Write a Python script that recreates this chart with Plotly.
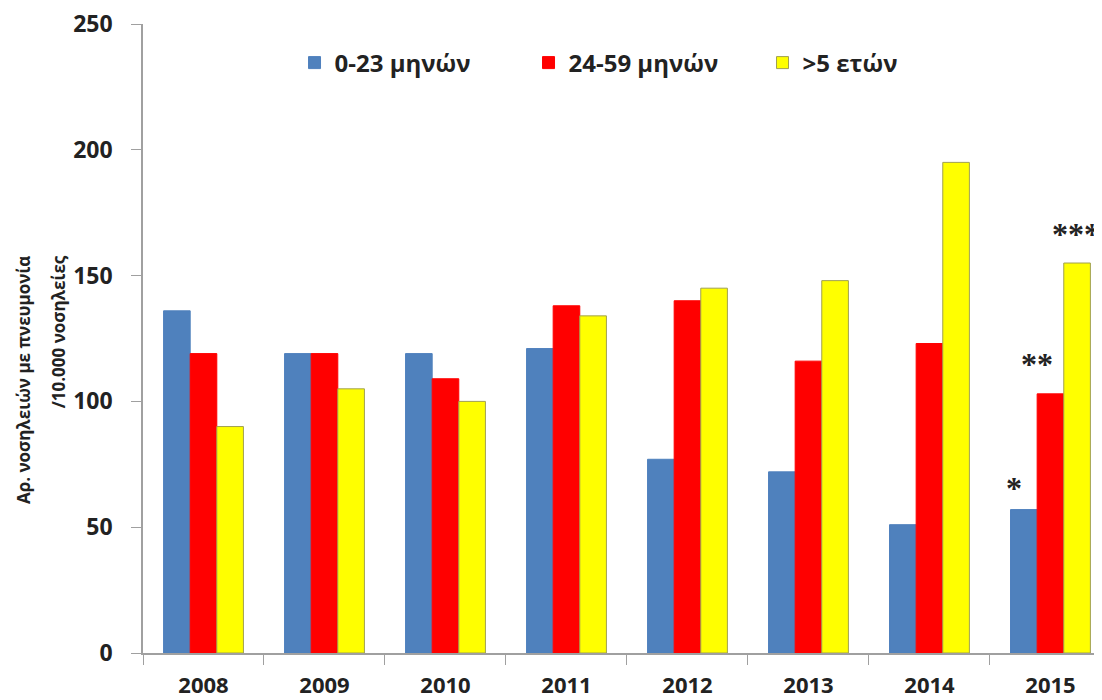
import plotly.graph_objects as go

years = ["2008", "2009", "2010", "2011", "2012", "2013", "2014", "2015"]
series_names = ["0-23 μηνών", "24-59 μηνών", ">5 ετών"]
v_0_23 = [136, 119, 119, 121, 77, 72, 51, 57]
v_24_59 = [119, 119, 109, 138, 140, 116, 123, 103]
v_over5 = [90, 105, 100, 134, 145, 148, 195, 155]
y_ticks = [0, 50, 100, 150, 200, 250]
y_title_1 = "Αρ. νοσηλειών με πνευμονία"
y_title_2 = "/10.000 νοσηλείες"
stars = ["*", "**", "***"]

colors = ["#4F81BD", "#FF0000", "#FFFF00"]
lines = ["#4F81BD", "#FF0000", "#A0A050"]
FONT = "Open Sans"

fig = go.Figure()
for name, vals, c, lc in zip(series_names, [v_0_23, v_24_59, v_over5], colors, lines):
    fig.add_trace(go.Bar(
        x=years, y=vals, name=name,
        marker=dict(color=c, line=dict(color=lc, width=1)),
    ))

# asterisks above 2015 bars
last = [v_0_23[-1], v_24_59[-1], v_over5[-1]]
xshifts = [-36, -13, 26]
yshifts = [22, 30, 29]
for s, v, xs, ys in zip(stars, last, xshifts, yshifts):
    fig.add_annotation(x=len(years) - 1, y=v, text=s, showarrow=False,
                       xshift=xs, yshift=ys, yanchor="middle", xanchor="center",
                       font=dict(family="Liberation Serif", size=32, color="#222"))

fig.add_annotation(xref="paper", yref="paper", x=-0.1251, y=0.434,
                   xanchor="center", yanchor="middle",
                   text=y_title_1, textangle=-90, showarrow=False,
                   font=dict(family=FONT, size=17, color="#222", weight="bold"))
fig.add_annotation(xref="paper", yref="paper", x=-0.0886, y=0.510,
                   xanchor="center", yanchor="middle",
                   text=y_title_2, textangle=-90, showarrow=False,
                   font=dict(family=FONT, size=17, color="#222", weight="bold"))

fig.update_layout(
    width=1094, height=692,
    margin=dict(l=135, r=0, t=16, b=47),
    paper_bgcolor="white", plot_bgcolor="white",
    barmode="group", bargap=0.34, bargroupgap=0,
    font=dict(family=FONT, size=21, color="#222", weight="bold"),
    showlegend=True,
    legend=dict(orientation="h", x=0.158, y=0.938, xanchor="left", yanchor="middle",
                entrywidth=189, entrywidthmode="pixels",
                font=dict(family=FONT, size=24, color="#222", weight="bold"),
                bgcolor="rgba(0,0,0,0)"),
    xaxis=dict(type="category", range=[-0.5, 7.426], showline=True, linecolor="#A0A0A0",
               linewidth=1.5, ticks="outside", tickson="boundaries", ticklen=10,
               tickcolor="#A0A0A0", showgrid=False, zeroline=False,
               ticklabelstandoff=12,
               tickfont=dict(family=FONT, size=22, color="#222", weight="bold")),
    yaxis=dict(range=[0, 250], tickvals=y_ticks, showline=True, linecolor="#A0A0A0",
               linewidth=1.5, ticks="outside", ticklen=10, tickcolor="#A0A0A0",
               showgrid=False, zeroline=False, ticklabelstandoff=14,
               ticklabeloverflow="allow",
               tickfont=dict(family=FONT, size=23, color="#222", weight="bold")),
)

fig.write_html("out.html")
